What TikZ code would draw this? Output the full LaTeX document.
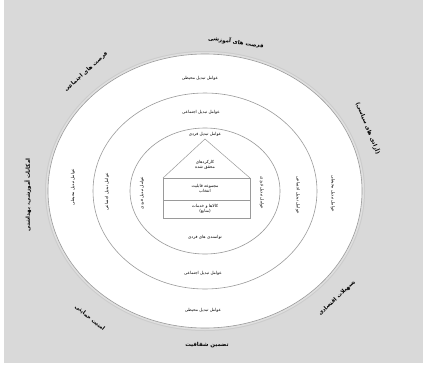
\documentclass[tikz,border=0pt]{standalone}
\usepackage{fontspec}
\newfontfamily\fa[Script=Arabic]{DejaVu Sans}
\TeXXeTstate=1
\newcommand{\pr}[1]{\beginR #1\endR}
\definecolor{bggray}{HTML}{D9D9D9}
\definecolor{ringline}{HTML}{9A9A9A}
\tikzset{
  ring/.style={draw=ringline, line width=0.6pt},
  intxt/.style={font=\fa\fontsize{4.2}{5}\selectfont, align=center, inner sep=0pt},
  outtxt/.style={font=\fa\bfseries\fontsize{5.5}{6.5}\selectfont, inner sep=0pt},
  housebox/.style={draw=ringline, line width=0.5pt},
}
\begin{document}
\begin{tikzpicture}[x=1pt,y=-1pt]
\useasboundingbox (0,0) rectangle (427,369);
\fill[white] (0,0) rectangle (427,369);
\fill[bggray] (4,0) rectangle (423,363);
% outer ring with soft edge
\fill[gray!40] (205,191) ellipse [x radius=160, y radius=140];
\fill[gray!25] (205,191) ellipse [x radius=159, y radius=139];
\fill[white] (205,191) ellipse [x radius=157, y radius=137];
\draw[ring] (205,191) ellipse [x radius=157, y radius=137];
\draw[ring] (205,191) ellipse [x radius=112, y radius=98];
\draw[ring] (205,191) ellipse [x radius=75, y radius=63];
% house
\coordinate (apex) at (205,139);
\coordinate (rl) at (163,178);
\coordinate (rr) at (250,178);
\draw[housebox] (rl) -- (apex) -- (rr);
\draw[housebox] (163,178) rectangle (250,200);
\draw[housebox] (163,200) rectangle (250,218);
\node[intxt] (roof) at (205,165) {\pr{کارکردهای}\\\pr{محقق شده}};
\node[intxt] (boxa) at (205,189) {\pr{مجموعه قابلیت}\\\pr{انتخاب}};
\node[intxt] (boxb) at (205,209) {\pr{کالاها و خدمات}\\\pr{(منابع)}};
% ring labels top / bottom
\node[intxt] (o-top) at (200,78) {\pr{عوامل تبدیل محیطی}};
\node[intxt] (m-top) at (201,112) {\pr{عوامل تبدیل اجتماعی}};
\node[intxt] (i-top) at (205,134) {\pr{عوامل تبدیل فردی}};
\node[intxt] (i-bot) at (205,237) {\pr{توانمندی های فردی}};
\node[intxt] (m-bot) at (203,273) {\pr{عوامل تبدیل اجتماعی}};
\node[intxt] (o-bot) at (203,310) {\pr{عوامل تبدیل محیطی}};
% ring labels left / right
\node[intxt, rotate=90] (o-left) at (73,187) {\pr{عوامل تبدیل محیطی}};
\node[intxt, rotate=90] (m-left) at (107,192) {\pr{عوامل تبدیل اجتماعی}};
\node[intxt, rotate=90] (i-left) at (142,193) {\pr{عوامل تبدیل فردی}};
\node[intxt, rotate=-90] (i-right) at (262,193) {\pr{عوامل تبدیل فردی}};
\node[intxt, rotate=-90] (m-right) at (298,195) {\pr{عوامل تبدیل اجتماعی}};
\node[intxt, rotate=-90] (o-right) at (333,194) {\pr{عوامل تبدیل محیطی}};
% outside labels
\node[outtxt, rotate=-8] (L-top) at (236,42) {\pr{فرصت های آموزشی}};
\node[outtxt, rotate=42] (L-tl) at (86,72) {\pr{فرصت های اجتماعی}};
\node[outtxt, rotate=-68] (L-r) at (368,128) {\pr{(آزادی های سیاسی)}};
\node[outtxt, rotate=90] (L-l) at (28,195) {\pr{امکانات آموزشی، بهداشتی}};
\node[outtxt, rotate=-40] (L-bl) at (90,318) {\pr{امنیت حمایتی}};
\node[outtxt, rotate=43] (L-br) at (337,298) {\pr{تسهیلات اقتصادی}};
\node[outtxt] (L-b) at (207,345) {\pr{تضمین شفافیت}};
\end{tikzpicture}
\end{document}
